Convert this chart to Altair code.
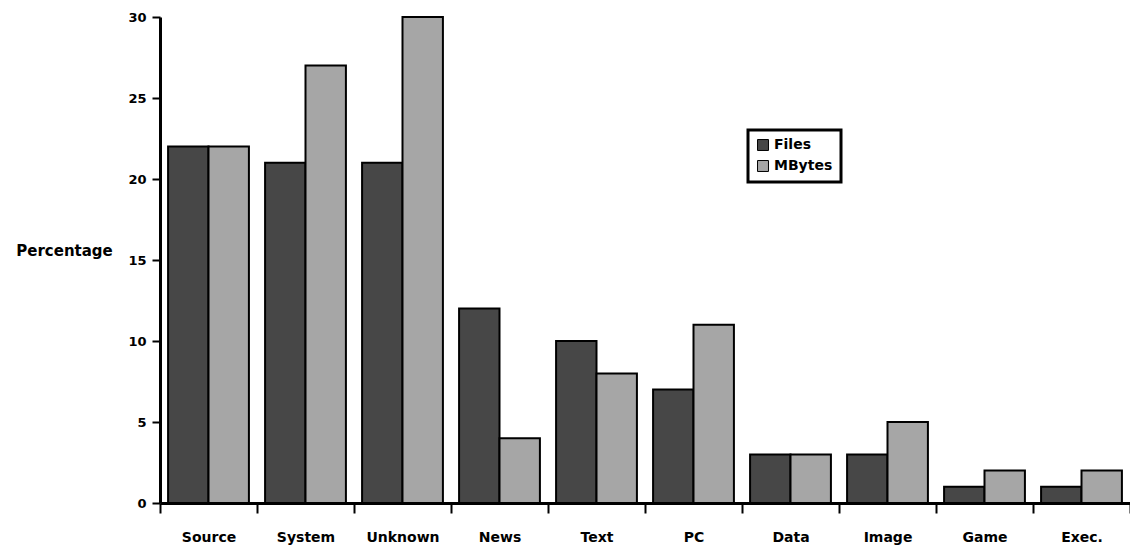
import altair as alt
import pandas as pd

categories = ["Source", "System", "Unknown", "News", "Text", "PC", "Data", "Image", "Game", "Exec."]
files = [22, 21, 21, 12, 10, 7, 3, 3, 1, 1]
mbytes = [22, 27, 30, 4, 8, 11, 3, 5, 2, 2]
series = ["Files", "MBytes"]

rows = []
for c, f, m in zip(categories, files, mbytes):
    rows.append({"cat": c, "series": "Files", "value": f})
    rows.append({"cat": c, "series": "MBytes", "value": m})
df = pd.DataFrame(rows)

FONT = "DejaVu Sans"

chart = alt.Chart(df).mark_bar(stroke="black", strokeWidth=2).encode(
    x=alt.X("cat:N", sort=categories, title=None,
            scale=alt.Scale(paddingInner=0, paddingOuter=0),
            axis=alt.Axis(labelAngle=0, tickBand="extent", labelPadding=17,
                          labelFont=FONT, labelFontSize=14, labelFontWeight="bold",
                          labelColor="black", domainColor="black", domainWidth=3,
                          tickColor="black", tickWidth=2, tickSize=10)),
    xOffset=alt.XOffset("series:N", sort=series,
                        scale=alt.Scale(paddingInner=0, paddingOuter=0.2)),
    y=alt.Y("value:Q", title="Percentage",
            scale=alt.Scale(domain=[0, 30], nice=False),
            axis=alt.Axis(values=[0, 5, 10, 15, 20, 25, 30], grid=False,
                          labelFont=FONT, labelFontSize=13, labelFontWeight="bold",
                          labelColor="black", labelPadding=6,
                          domainColor="black", domainWidth=3,
                          tickColor="black", tickWidth=2, tickSize=8,
                          titleAngle=0, titleX=-96, titleY=233, titleAlign="center",
                          titleBaseline="middle", titleFont=FONT, titleFontSize=15,
                          titleFontWeight="bold", titleColor="black")),
    color=alt.Color("series:N", sort=series, title=None,
                    scale=alt.Scale(domain=series, range=["#474747", "#a6a6a6"]),
                    legend=alt.Legend(orient="none", legendX=588, legendY=113,
                                      strokeColor="black", padding=8,
                                      fillColor="white",
                                      symbolType="square", symbolSize=120,
                                      symbolStrokeColor="black", symbolStrokeWidth=1,
                                      labelFont=FONT, labelFontSize=14,
                                      labelFontWeight="bold", labelColor="black",
                                      rowPadding=5)),
).properties(
    width=970, height=486,
    autosize=alt.AutoSizeParams(type="none"),
    padding={"left": 152, "top": 9, "right": 0, "bottom": 46},
).configure_view(stroke=None).configure_legend(strokeWidth=3)

chart.save("out.html", embed_options={"renderer": "svg", "actions": False})
